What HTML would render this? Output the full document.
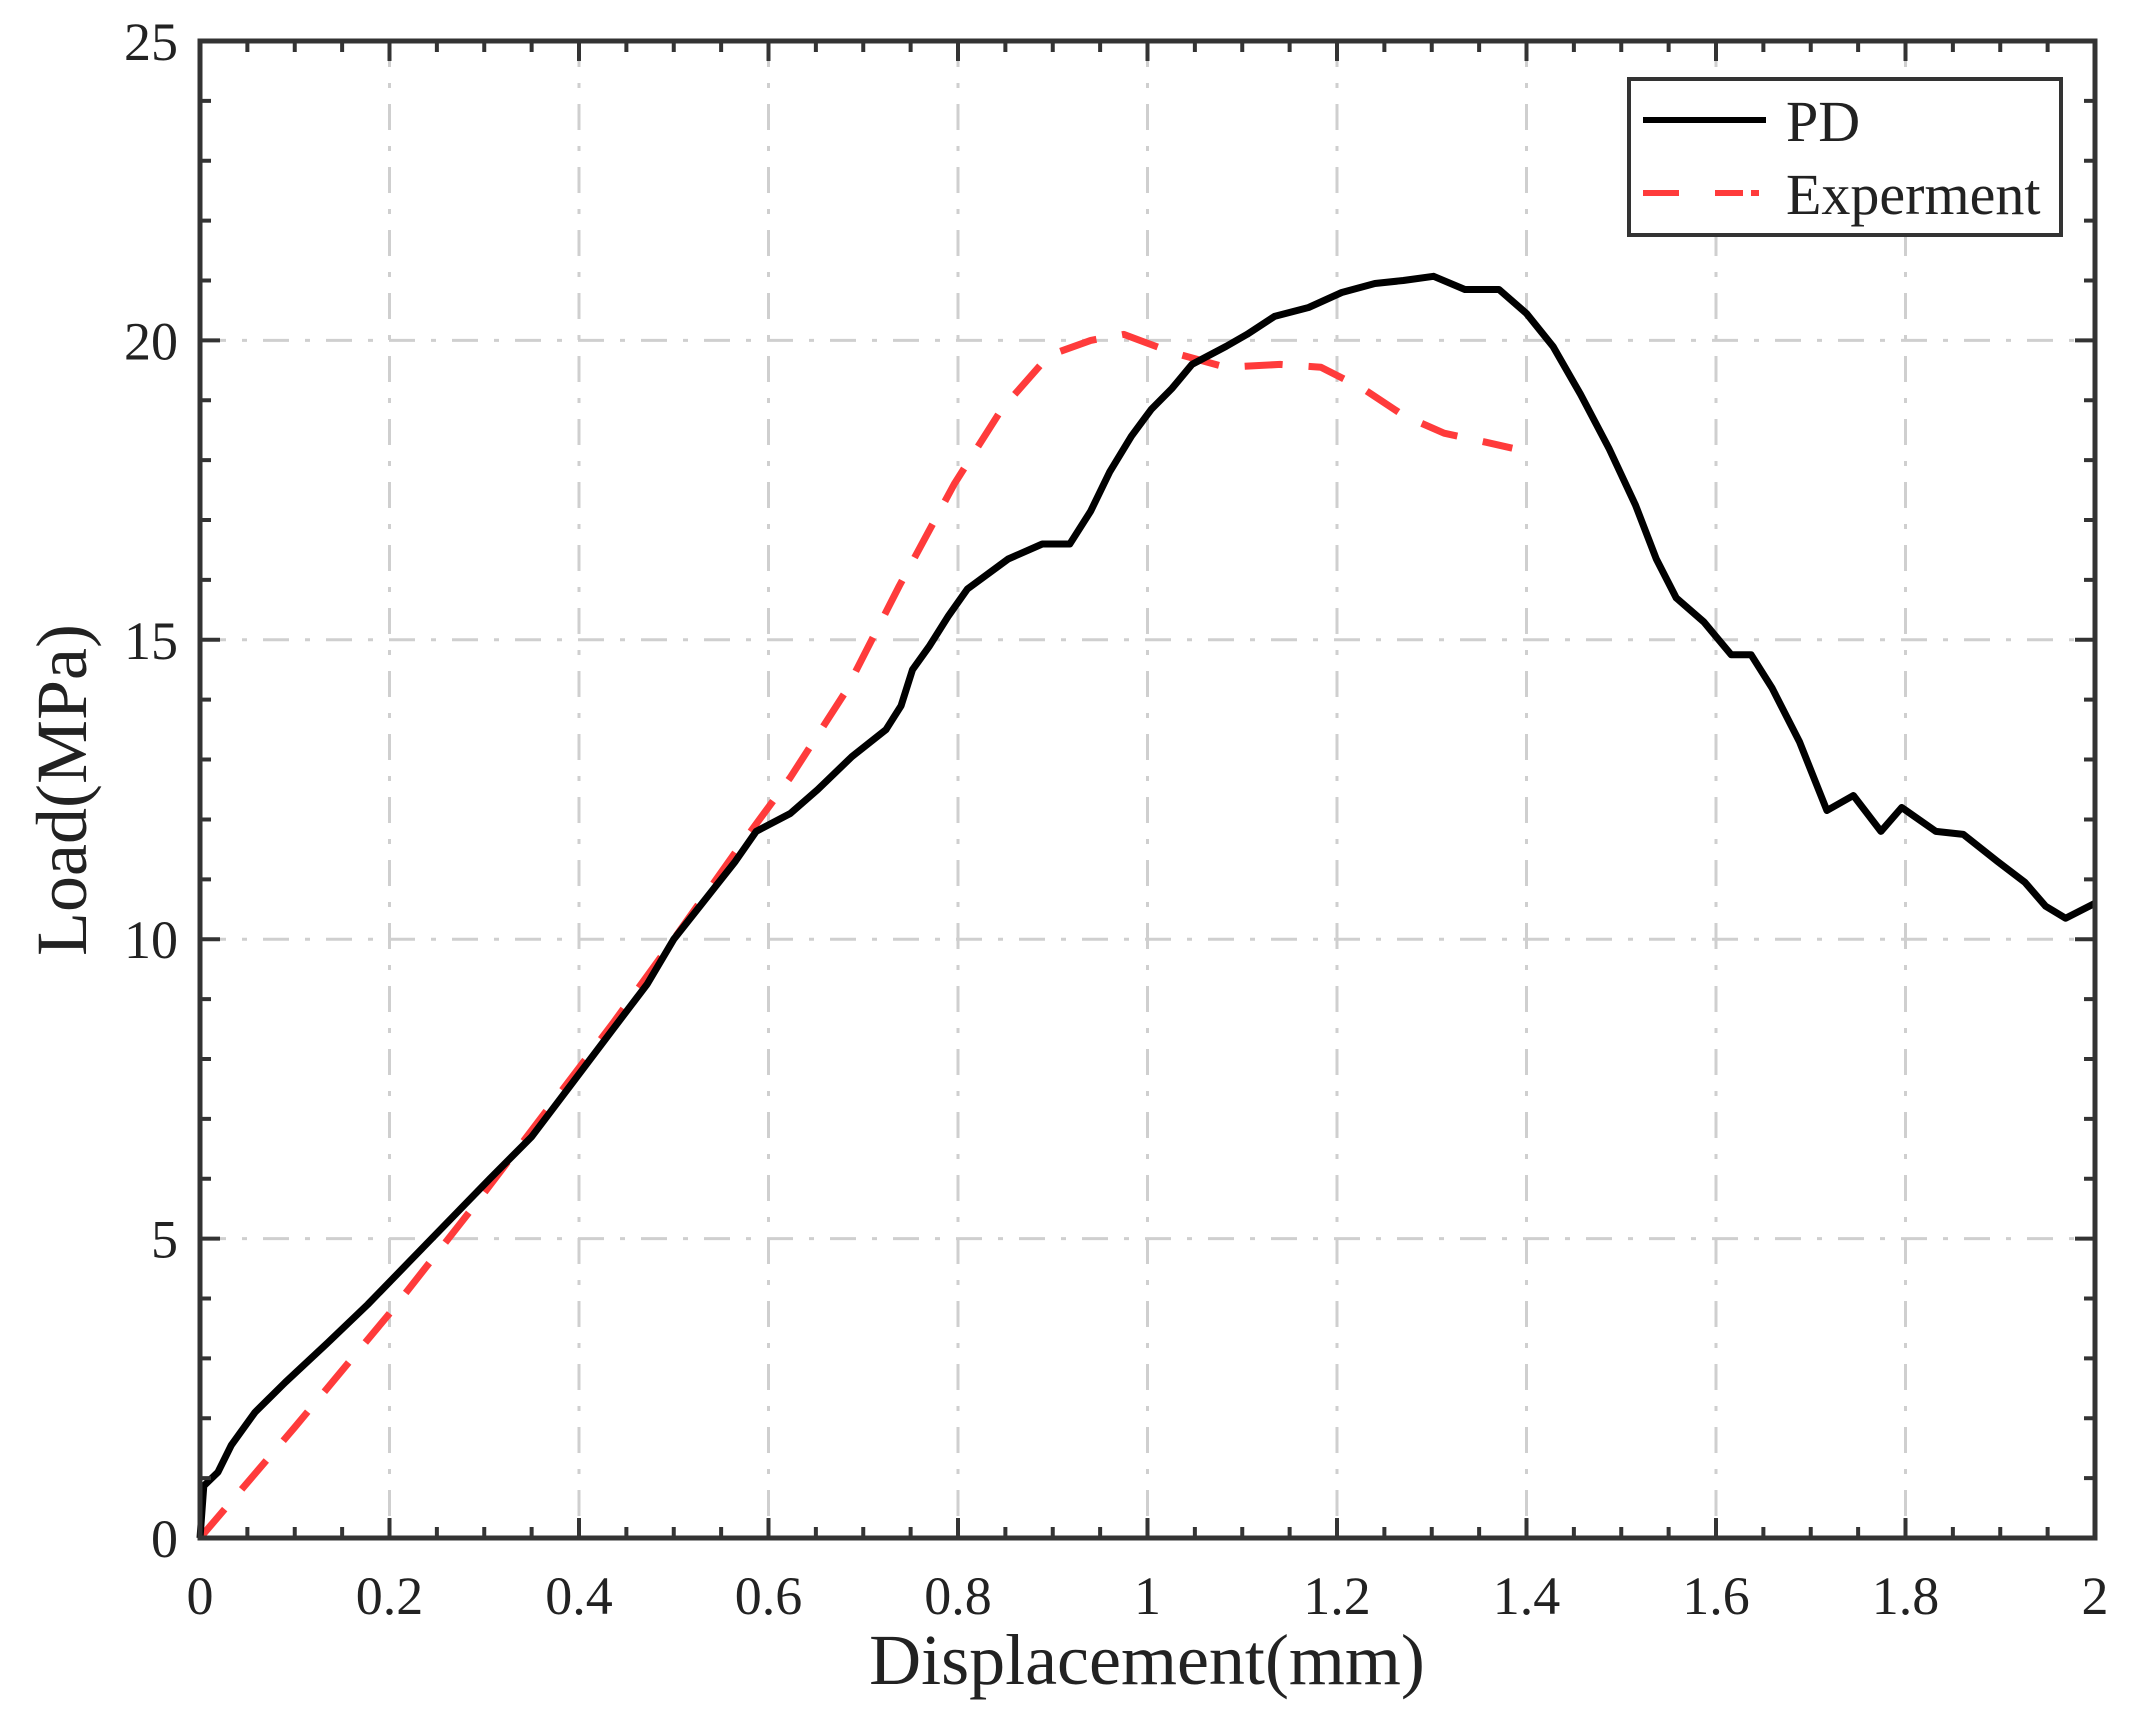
<!DOCTYPE html>
<html><head><meta charset="utf-8"><style>
html,body{margin:0;padding:0;background:#fff;}
svg{display:block;}
text{font-family:"Liberation Serif",serif;fill:#222;}
</style></head><body>
<svg id="chart" width="2139" height="1730" viewBox="0 0 2139 1730" xmlns="http://www.w3.org/2000/svg">
<g id="grid"></g>
<g id="series"></g>
<g id="axes"></g>
<g id="legend">
  <rect x="1629" y="79" width="432" height="156" fill="#fff" stroke="#333" stroke-width="4"/>
  <line x1="1643" y1="120" x2="1766" y2="120" stroke="#000" stroke-width="6"/>
  <text x="1786" y="141" font-size="58">PD</text>
  <line x1="1643" y1="193" x2="1766" y2="193" stroke="#ff3b3b" stroke-width="6" stroke-dasharray="36 36 28 8 8"/>
  <text x="1786" y="214" font-size="58">Experment</text>
</g>
<text x="1147" y="1684" text-anchor="middle" font-size="72">Displacement(mm)</text>
<text transform="translate(86,790) rotate(-90)" text-anchor="middle" font-size="72">Load(MPa)</text>
</svg>
<script>
const pdX=[0,0.004,0.019,0.033,0.058,0.09,0.134,0.177,0.22,0.263,0.306,0.35,0.393,0.436,0.472,0.5,0.53,0.565,0.587,0.623,0.652,0.688,0.724,0.74,0.752,0.77,0.79,0.81,0.853,0.889,0.918,0.94,0.96,0.983,1.004,1.026,1.047,1.083,1.105,1.134,1.17,1.205,1.24,1.27,1.302,1.335,1.371,1.4,1.428,1.457,1.487,1.515,1.537,1.558,1.587,1.616,1.637,1.659,1.688,1.717,1.745,1.774,1.796,1.832,1.861,1.897,1.926,1.948,1.969,2.0];
const pdY=[0,0.87,1.1,1.55,2.1,2.6,3.25,3.9,4.6,5.3,6.0,6.7,7.6,8.5,9.25,10.0,10.6,11.3,11.8,12.1,12.5,13.05,13.5,13.9,14.5,14.9,15.4,15.85,16.35,16.6,16.6,17.15,17.8,18.4,18.85,19.2,19.6,19.9,20.1,20.4,20.55,20.8,20.95,21.0,21.07,20.85,20.85,20.45,19.9,19.1,18.2,17.25,16.35,15.7,15.3,14.75,14.75,14.2,13.3,12.15,12.4,11.8,12.2,11.8,11.75,11.3,10.95,10.55,10.35,10.6];
const expX=[0,0.1,0.2,0.292,0.364,0.436,0.5,0.565,0.623,0.68,0.738,0.796,0.846,0.896,0.94,0.975,1.026,1.083,1.14,1.183,1.227,1.27,1.313,1.357,1.385];
const expY=[0,1.85,3.75,5.6,7.1,8.6,10.0,11.45,12.7,14.1,15.9,17.6,18.85,19.75,20.0,20.1,19.8,19.55,19.6,19.55,19.2,18.75,18.45,18.3,18.2];
const xTicks=["0","0.2","0.4","0.6","0.8","1","1.2","1.4","1.6","1.8","2"];
const yTicks=["0","5","10","15","20","25"];
const NS="http://www.w3.org/2000/svg";
const L=200,R=2095,T=41,B=1538;
const sx=v=>L+(v/2)*(R-L);
const sy=v=>B-(v/25)*(B-T);
function mk(tag,attrs,parent){const e=document.createElementNS(NS,tag);for(const k in attrs)e.setAttribute(k,attrs[k]);parent.appendChild(e);return e;}
const grid=document.getElementById('grid'),axes=document.getElementById('axes'),series=document.getElementById('series');
xTicks.forEach((t,i)=>{const v=parseFloat(t),x=sx(v);
  if(i>0&&i<xTicks.length-1){const g=mk('line',{x1:x,y1:T,x2:x,y2:B,stroke:'#cfcfcf','stroke-width':3,'stroke-dasharray':'26 16 5 16'},grid);
  
  }
  const lb=mk('text',{x:x,y:1614,'text-anchor':'middle','font-size':54},axes);lb.textContent=t;
  
  
});
yTicks.forEach((t,i)=>{const v=parseFloat(t),y=sy(v);
  if(i>0&&i<yTicks.length-1){const g=mk('line',{x1:L,y1:y,x2:R,y2:y,stroke:'#cfcfcf','stroke-width':3,'stroke-dasharray':'26 16 5 16'},grid);
  
  }
  const lb=mk('text',{x:178,y:y+19,'text-anchor':'end','font-size':54},axes);lb.textContent=t;
  
  
});
let td='';
for(let k=0;k<=40;k++){const x=sx(k*0.05),len=(k%4===0)?20:11;td+=`M${x},${B}v${-len}M${x},${T}v${len}`;}
for(let k=0;k<=25;k++){const y=sy(k),len=(k%5===0)?20:11;td+=`M${L},${y}h${len}M${R},${y}h${-len}`;}
const tk=mk('path',{d:td,stroke:'#333','stroke-width':4,fill:'none'},axes);


const fr=mk('rect',{x:L,y:T,width:R-L,height:B-T,fill:'none',stroke:'#333','stroke-width':5},axes);


function pathOf(xs,ys){return xs.map((x,i)=>(i?'L':'M')+sx(x).toFixed(1)+','+sy(ys[i]).toFixed(1)).join('');}
const ex=mk('path',{d:pathOf(expX,expY),stroke:'#ff3b3b','stroke-width':7,fill:'none','stroke-dasharray':'38 26','stroke-linejoin':'round'},series);


const pd=mk('path',{d:pathOf(pdX,pdY),stroke:'#000','stroke-width':7,fill:'none','stroke-linejoin':'round'},series);


</script>
</body></html>
